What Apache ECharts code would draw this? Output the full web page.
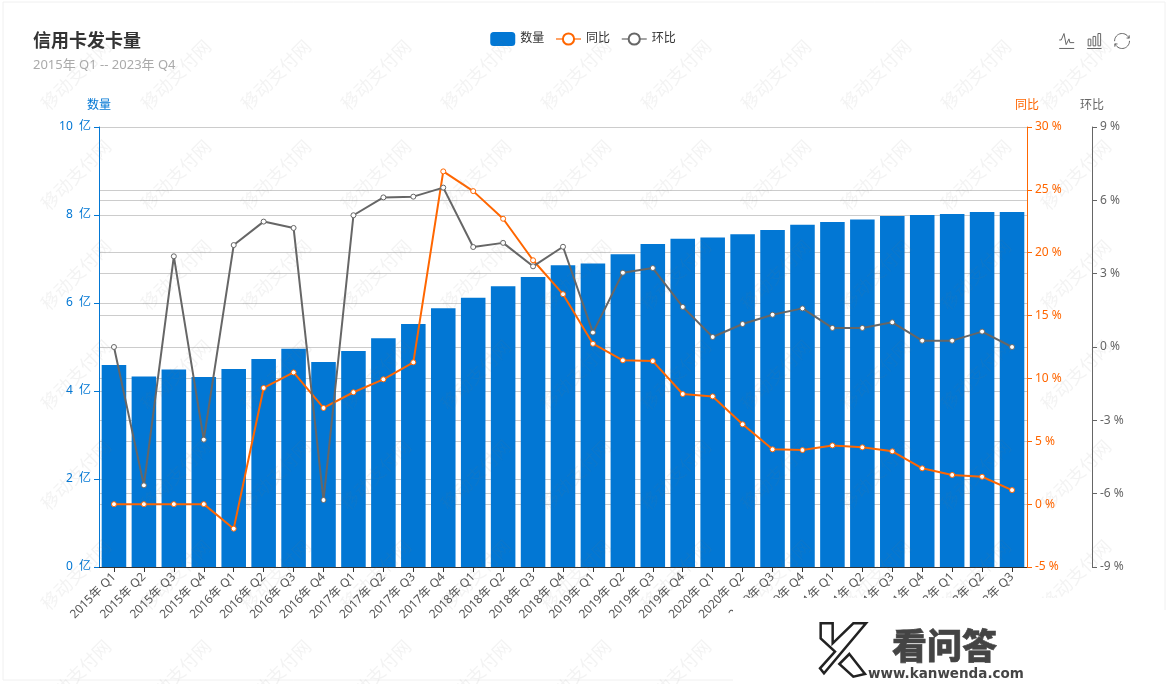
<!DOCTYPE html>
<html><head><meta charset="utf-8">
<style>html,body{margin:0;padding:0;background:#fff}#c{width:1166px;height:684px}</style>
<script src="https://cdn.jsdelivr.net/npm/echarts@6/dist/echarts.min.js"></script>
</head><body><div id="c"></div>
<script>
const categories=['2015年 Q1','2015年 Q2','2015年 Q3','2015年 Q4','2016年 Q1','2016年 Q2','2016年 Q3','2016年 Q4','2017年 Q1','2017年 Q2','2017年 Q3','2017年 Q4','2018年 Q1','2018年 Q2','2018年 Q3','2018年 Q4','2019年 Q1','2019年 Q2','2019年 Q3','2019年 Q4','2020年 Q1','2020年 Q2','2020年 Q3','2020年 Q4','2021年 Q1','2021年 Q2','2021年 Q3','2021年 Q4','2022年 Q1','2022年 Q2','2022年 Q3'];
const quantity=[4.59,4.33,4.49,4.32,4.5,4.73,4.96,4.66,4.91,5.2,5.52,5.88,6.12,6.38,6.59,6.86,6.9,7.11,7.34,7.46,7.49,7.56,7.66,7.78,7.84,7.9,7.98,8.0,8.02,8.07,8.07];
const yoy=[0,0,0,0,-1.95,9.24,10.48,7.65,8.9,9.93,11.28,26.47,24.9,22.7,19.4,16.7,12.76,11.44,11.38,8.76,8.57,6.35,4.36,4.3,4.67,4.52,4.2,2.85,2.32,2.18,1.12];
const qoq=[0,-5.66,3.71,-3.79,4.17,5.13,4.87,-6.26,5.39,6.12,6.15,6.52,4.09,4.26,3.3,4.1,0.59,3.04,3.23,1.64,0.41,0.94,1.32,1.58,0.78,0.78,1.01,0.26,0.26,0.63,0];
const BLUE='#0277d4',ORANGE='#ff6600',GREY='#666666';
const FONT='"Noto Sans","Noto Sans CJK SC",sans-serif';
const graphics=[];
for(let gx=77;gx<1166;gx+=100){for(let gy=76;gy<684;gy+=100){graphics.push({type:'text',silent:true,z:50,x:gx,y:gy,rotation:Math.PI/4,style:{text:'移动支付网',font:'18px '+FONT,fill:'rgba(120,120,120,0.09)',align:'center',verticalAlign:'middle'}});}}
graphics.push({type:'rect',silent:true,z:-1,shape:{x:3,y:2,width:1162,height:678},style:{fill:'none',stroke:'#f0f0f0',lineWidth:1}});
graphics.push({type:'rect',silent:true,z:60,shape:{x:733,y:598,width:429,height:86},style:{fill:'#fff'}});
graphics.push({type:'rect',silent:true,z:60,shape:{x:1162,y:610,width:4,height:74},style:{fill:'#fff'}});
const zoomPts=a=>a.map(p=>[800+p[0]/3,560+p[1]/3]);
graphics.push({type:'polygon',silent:true,z:61,shape:{points:zoomPts([[62,190],[98,190],[98,250],[160,190],[198,190],[72,340],[60,325],[105,275],[62,235]])},style:{stroke:'#222',fill:'#fff',lineWidth:2.5}});
graphics.push({type:'polygon',silent:true,z:61,shape:{points:zoomPts([[148,282],[195,342],[160,350],[118,312]])},style:{stroke:'#222',fill:'#fff',lineWidth:2.5}});
graphics.push({type:'text',silent:true,z:61,x:892,y:628,style:{text:'看问答',font:'900 35px "Noto Sans CJK SC"',fill:'#444',stroke:'#444',lineWidth:0.6}});
graphics.push({type:'text',silent:true,z:61,x:868,y:667,style:{text:'www.kanwenda.com',font:'bold 13.5px "DejaVu Sans"',fill:'#444'}});
function valAxis(name,color,min,max,interval,position,offset){return {type:'value',name,min,max,interval,position,offset,
 nameTextStyle:{color,fontFamily:FONT,fontSize:12},
 axisLine:{show:true,lineStyle:{color}},axisTick:{show:true,lineStyle:{color}},
 axisLabel:{color,fontFamily:FONT,fontSize:12,formatter:position==='left'?'{value}  亿':'{value} %'},
 splitLine:{show:true,lineStyle:{color:'#cccccc',width:1}}};}
const chart=echarts.init(document.getElementById('c'),null,{renderer:'canvas'});
chart.setOption({
 animation:false,backgroundColor:'#fff',
 title:{text:'信用卡发卡量',subtext:'2015年 Q1 -- 2023年 Q4',left:28,top:26,textStyle:{fontFamily:'"Noto Sans CJK SC"',fontSize:18,fontWeight:'bold',color:'#333'},subtextStyle:{fontFamily:FONT,fontSize:13,color:'#aaa'}},
 legend:{top:27,left:'center',itemWidth:25,itemHeight:14,itemGap:11,textStyle:{fontFamily:FONT,fontSize:12,color:'#333'},lineStyle:{width:1.5,opacity:0.8},data:['数量','同比','环比']},
 toolbox:{right:19,top:16,itemSize:15,itemGap:8,iconStyle:{borderColor:'#666'},feature:{magicType:{type:['line','bar']},restore:{}}},
 grid:{left:99,top:127,width:928,height:440},
 xAxis:{type:'category',data:categories,axisLine:{lineStyle:{color:'#333'}},axisTick:{show:true,alignWithLabel:true,lineStyle:{color:'#333'}},axisLabel:{rotate:45,interval:0,fontFamily:FONT,fontSize:12,color:'#555'},splitLine:{show:false}},
 yAxis:[valAxis('数量',BLUE,0,10,2,'left',0),valAxis('同比',ORANGE,-5,30,5,'right',0),valAxis('环比',GREY,-9,9,3,'right',65)],
 series:[
  {name:'数量',type:'bar',data:quantity,barWidth:'82%',itemStyle:{color:BLUE}},
  {name:'同比',type:'line',yAxisIndex:1,data:yoy,symbol:'circle',symbolSize:5,showSymbol:true,lineStyle:{color:ORANGE,width:2},itemStyle:{color:'#fff',borderColor:ORANGE,borderWidth:1}},
  {name:'环比',type:'line',yAxisIndex:2,data:qoq,symbol:'circle',symbolSize:5,showSymbol:true,lineStyle:{color:GREY,width:2},itemStyle:{color:'#fff',borderColor:GREY,borderWidth:1}}
 ],
 graphic:graphics
});
</script></body></html>
